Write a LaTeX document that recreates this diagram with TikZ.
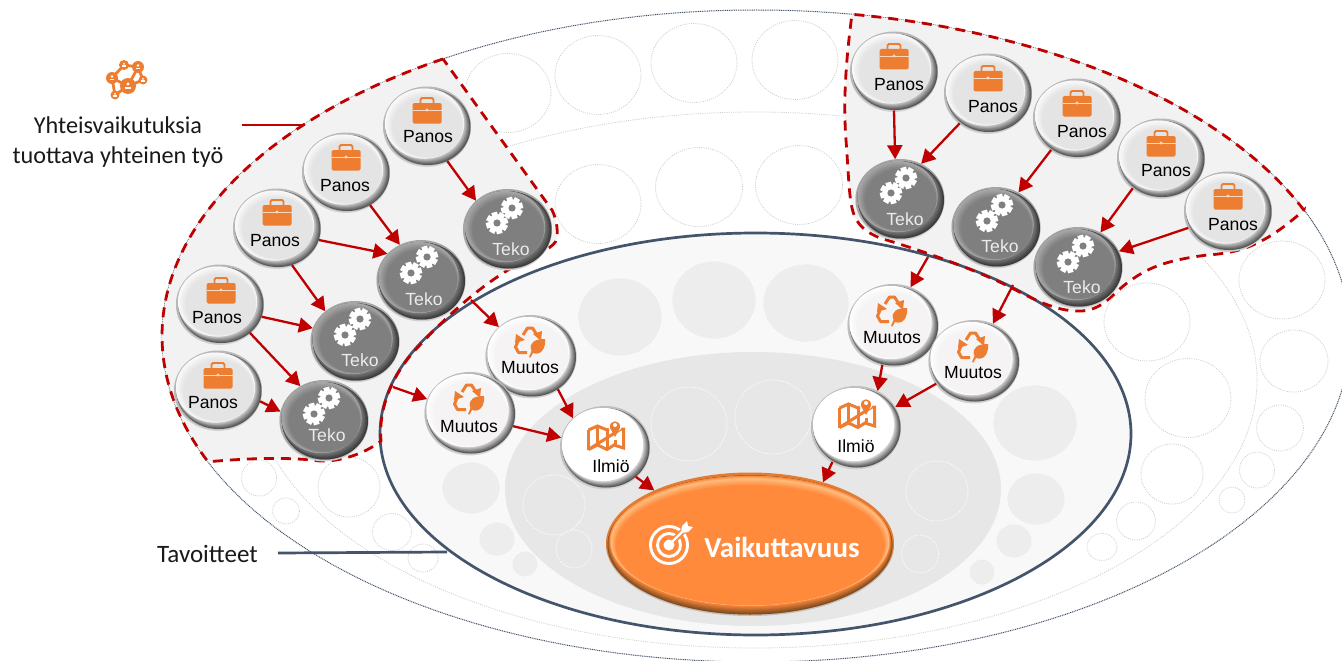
\documentclass[tikz,border=0pt]{standalone}
\usepackage{fontspec}
\setmainfont{Liberation Sans}
\newfontfamily\carlito{Carlito}
\usetikzlibrary{arrows.meta,shapes.geometric}
\definecolor{dred}{HTML}{C00000}
\definecolor{slateb}{HTML}{44546A}
\definecolor{iconor}{HTML}{ED7D31}
\definecolor{ringgray}{HTML}{CFCFCF}
\definecolor{regiong}{HTML}{F2F2F2}
\definecolor{goalfill}{HTML}{F8F8F8}
\definecolor{innerfill}{HTML}{E7E7E7}
\definecolor{spotfill}{HTML}{EDEDED}
% ball colours: base lip, dark rim, light rim, highlight, body
\definecolor{bspanos}{HTML}{B8B8B8}\definecolor{rdpanos}{HTML}{555555}\definecolor{rlpanos}{HTML}{D8D8D8}\definecolor{hipanos}{HTML}{FAFAFA}\definecolor{bdpanos}{HTML}{E4E4E4}
\definecolor{bsmuutos}{HTML}{BCBCBC}\definecolor{rdmuutos}{HTML}{555555}\definecolor{rlmuutos}{HTML}{E4E4E4}\definecolor{himuutos}{HTML}{FFFFFF}\definecolor{bdmuutos}{HTML}{F5F3F3}
\definecolor{bsilmio}{HTML}{BEBEBE}\definecolor{rdilmio}{HTML}{555555}\definecolor{rlilmio}{HTML}{ECECEC}\definecolor{hiilmio}{HTML}{FFFFFF}\definecolor{bdilmio}{HTML}{FFFFFF}
\definecolor{bsteko}{HTML}{A4A4A4}\definecolor{rdteko}{HTML}{3A3A3A}\definecolor{rlteko}{HTML}{808080}\definecolor{hiteko}{HTML}{A8A8A8}\definecolor{bdteko}{HTML}{7F7F7F}
\definecolor{ohi}{HTML}{FFBC7E}
\definecolor{obody}{HTML}{FF8A3C}
\definecolor{orimA}{HTML}{E07C34}
\definecolor{orimC}{HTML}{7D4B20}
\tikzset{
  x=1pt,y=-1pt,
  arr/.style={draw=dred,line width=2.3pt,-{Triangle[length=14pt,width=15pt]}},
  outerring/.style={draw=ringgray,line width=.8pt,dash pattern=on 1pt off 1.2pt},
  goalspot/.style={draw=white,line width=.8pt,dash pattern=on 1pt off 1.2pt,fill=#1},
  goalspot/.default=spotfill,
  ballanchor/.style={ellipse,inner sep=0pt,outer sep=0pt},
  balltext/.style={font=\fontsize{17.6}{20}\selectfont,inner sep=0pt,text=black,yshift=-1pt},
  regiondash/.style={draw=dred,line width=2.8pt,dash pattern=on 10pt off 7pt},
  sidetext/.style={font=\carlito\fontsize{24.2}{30}\selectfont,inner sep=0pt,align=center,text=black!90},
}
\newcommand{\ballat}[6]{% name x y rx ry kind
  \fill[black!18] (#2,#3+1.4) ellipse[x radius=#4,y radius=#5];
  \fill[bs#6] (#2,#3) ellipse[x radius=#4,y radius=#5];
  \foreach \i in {0,...,8}{
    \pgfmathsetmacro{\tt}{\i/8}\pgfmathsetmacro{\pct}{100*\tt}
    \fill[rl#6!\pct!rd#6] ({#2+1-3.5*\tt},{#3+1-3.5*\tt}) ellipse[x radius=#4-1.5-3*\tt,y radius=#5-1.5-3*\tt];
  }
  \foreach \i in {0,...,8}{
    \pgfmathsetmacro{\tt}{\i/8}\pgfmathsetmacro{\pct}{100*\tt}
    \fill[bd#6!\pct!hi#6] ({#2-2.5+3*\tt},{#3-2.5+3*\tt}) ellipse[x radius=#4-4.5-4.5*\tt,y radius=#5-4.5-4.5*\tt];
  }
  \node[ballanchor,minimum width=2*#4 pt,minimum height=2*#5 pt] (#1) at (#2,#3) {};
}
\newcommand{\caseicon}[2]{\begin{scope}[shift={(#1,#2)}]
  \draw[iconor,line width=1.8pt,rounded corners=1.5pt] (-6.5,-7) -- (-6.5,-13) -- (6.5,-13) -- (6.5,-7);
  \fill[iconor,rounded corners=1.5pt] (-14.5,-8) rectangle (14.5,12.5);
  \draw[white!70!iconor,line width=.6pt] (-14.5,-1) -- (14.5,-1);
  \fill[white!70!iconor] (0,-1) circle[radius=1.6];
\end{scope}}
\newcommand{\gearicon}[2]{\begin{scope}[shift={(#1,#2)}]
  \fill[white] (0,0) circle[radius=8.6];
  \foreach \a in {0,45,...,315}{\fill[white,rotate=\a+15] (-2.9,-11) rectangle (2.9,0);}
  \fill[black!50] (0,0) circle[radius=3.6];
\end{scope}}
\newcommand{\recycleicon}[2]{\begin{scope}[shift={(#1,#2)}]
  \draw[iconor,line width=3pt,line join=round] (-7,-7) -- (-2.5,-14) -- (2.5,-14) -- (7,-7);
  \fill[iconor] (3,-8) -- (12,-11) -- (11,-1) -- cycle;
  \fill[iconor] (-14,-8) -- (-5,-2) -- (-15,1) -- cycle;
  \draw[iconor,line width=3pt,line join=round] (-11.5,-2) -- (-14.5,5) -- (-11.5,10.5) -- (-3,10.5);
  \fill[iconor] (-1,15) -- (1.5,9) .. controls (-2,0) and (6,-3) .. (15,-3) .. controls (16,6) and (11,14) .. (3,11) -- (0.5,15.5) -- cycle;
\end{scope}}
\newcommand{\mapicon}[2]{\begin{scope}[shift={(#1,#2)}]
  \draw[iconor,line width=3pt,line join=miter] (-17.5,-7) -- (-8.5,-11) -- (1,-7) -- (3,-8);
  \draw[iconor,line width=3pt,line join=miter] (15,-8) -- (17.5,-8) -- (17.5,11) -- (8,8) -- (1,12.5) -- (-8.5,8) -- (-17.5,12.5) -- cycle;
  \draw[iconor,line width=3pt] (-17.5,-7) -- (-17.5,12.5);
  \draw[iconor,line width=3pt] (-8.5,-11) -- (-8.5,8) (1,-7) -- (1,12.5) (9,3) -- (9,8);
  \fill[white] (9,-12) circle[radius=7];
  \fill[iconor] (9,0) -- (4,-9) .. controls (3,-18) and (15,-18) .. (14,-9) -- cycle;
  \fill[white] (9,-12) circle[radius=2];
\end{scope}}
\newcommand{\panosball}[7]{\ballat{#1}{#2}{#3}{44}{39.5}{panos}\caseicon{#6}{#7}\node[balltext] (#1t) at (#4,#5) {Panos};}
\newcommand{\tekoball}[9]{\ballat{#1}{#2}{#3}{44.5}{40}{teko}\gearicon{#6}{#7}\gearicon{#8}{#9}\node[balltext,text=white!92!black] (#1t) at (#4,#5) {Teko};}
\newcommand{\muutosball}[7]{\ballat{#1}{#2}{#3}{45.5}{41}{muutos}\recycleicon{#6}{#7}\node[balltext] (#1t) at (#4,#5) {Muutos};}
\newcommand{\ilmioball}[7]{\ballat{#1}{#2}{#3}{45}{41}{ilmio}\mapicon{#6}{#7}\node[balltext] (#1t) at (#4,#5) {Ilmiö};}
\begin{document}
\begin{tikzpicture}
\useasboundingbox (0,0) rectangle (1342,661);
\fill[white] (0,0) rectangle (1342,661);
% big rings
\draw[slateb,line width=1pt,dash pattern=on 1pt off .8pt] (756,336) ellipse[x radius=594,y radius=326];
\draw[outerring] (755,380) ellipse[x radius=502,y radius=268];
% outer ring circles
\foreach \cx/\cy/\rx/\ry in {508/93/43/39.5,598/75/43/39.5,694/63/43/39.5,795/60/43/39.5,598/204/43/39.5,699/187/43.5/39.5,799/185/43.5/39.5,
 1282/280/43/39,1147/322/43/39,1188/398/43/39.5,1294/361/34/31,1172/474/31/30,1136/521/19.5/19,1102/547/15/13.5,1280/428/23.5/23,1257/470/17.5/18,1232/500/13/13,
 259/478/17.5/18,286/511/13.5/13,349/487/31/30,392/532/19.5/18.5,423/558/15/14}
  {\draw[outerring] (\cx,\cy) ellipse[x radius=\rx,y radius=\ry];}
% goal ellipse
\fill[goalfill] (755.5,434) ellipse[x radius=375.5,y radius=201];
\fill[innerfill] (753,489) ellipse[x radius=248,y radius=137];
\foreach \cx/\cy/\rx/\ry in {620/317/42/39,714/300/42/39,806/303/43/39,471/488/29/26,497/539/18/17,525/564/13/13,1035/423/42/38,1036/499/29/26,1014/541/18/17,982/572/13/13}
  {\draw[goalspot] (\cx,\cy) ellipse[x radius=\rx,y radius=\ry];}
\foreach \cx/\cy/\rx/\ry in {689/424/38/37,773/417/38/37,554/505/31/30,574/549/18/19,937/491/31/30,920/554/18.5/19}
  {\draw[goalspot=innerfill] (\cx,\cy) ellipse[x radius=\rx,y radius=\ry];}
% dashed regions
\def\leftregion{plot[domain=238.2:157.3,samples=80] ({756+594*cos(\x)},{336+326*sin(\x)})
  .. controls (250,458) and (290,457) .. (320,461) .. controls (345,462) and (370,450) .. (381,441)
  .. controls (378,405) and (395,370) .. (420,345) .. controls (445,318) and (480,285) .. (520,263)
  .. controls (540,252) and (555,248) .. (557,238) .. controls (558,228) and (556,218) .. (552,210) -- cycle}
\def\rightregion{plot[domain=337.3:279.3,samples=80] ({756+594*cos(\x)},{336+326*sin(\x)})
  .. controls (846,60) and (843,100) .. (846,140) .. controls (849,180) and (849,205) .. (855,217)
  .. controls (860,228) and (870,234) .. (880,238) .. controls (930,253) and (980,272) .. (1010,287)
  .. controls (1040,303) and (1060,312) .. (1082,311) .. controls (1105,309) and (1112,293) .. (1130,281)
  .. controls (1150,266) and (1170,260) .. (1207,255) .. controls (1240,253) and (1265,245) .. (1304,210) -- cycle}
\fill[regiong] \leftregion;
\fill[regiong] \rightregion;
\draw[slateb,line width=2.7pt] (755.5,434) ellipse[x radius=375.5,y radius=201];
\draw[regiondash] \leftregion;
\draw[regiondash] \rightregion;
% left balls
\tekoball{lt}{507.5}{229}{511}{248}{497}{223}{512}{208}
\tekoball{lu}{421}{280}{424}{298}{411}{273}{427}{257}
\tekoball{lv}{355}{341}{360}{359}{345}{335}{360}{319}
\tekoball{lw}{324}{420}{327}{434}{314}{414}{329}{398}
\panosball{la}{427}{126}{428}{136}{427}{111}
\panosball{lb}{346}{172}{345}{185}{346}{158}
\panosball{lc}{277}{228}{275}{240}{277}{213}
\panosball{ld}{220}{304}{217}{317}{221}{291}
\panosball{le}{218}{390}{213}{402}{218}{376}
% right balls
\panosball{ra}{894}{71}{899}{84}{894}{57}
\panosball{rb}{988}{93}{993}{106}{988}{79}
\panosball{rc}{1077}{118}{1082}{131}{1077}{104}
\panosball{rd}{1161}{158}{1166}{170}{1161}{144}
\panosball{re}{1228}{211}{1233}{224}{1228}{197}
\tekoball{rt}{900}{199}{905}{218}{891}{193}{906}{178}
\tekoball{ru}{996}{227}{1000}{245}{987}{221}{1002}{205}
\tekoball{rv}{1078}{267}{1082}{286}{1068}{262}{1083}{246}
% change balls
\muutosball{ma}{531}{356}{530}{367}{530}{342}
\muutosball{mb}{470}{413}{469}{426}{469}{399}
\muutosball{mc}{893}{325}{892}{337}{892}{311}
\muutosball{md}{974}{361}{973}{372}{973}{347}
\ilmioball{ia}{605}{447}{611}{465}{606}{437}
\ilmioball{ib}{856}{427}{856}{445}{857}{415}
% result
\fill[black!25] (750,545) ellipse[x radius=144,y radius=71];
\fill[orimA] (750,543.5) ellipse[x radius=144,y radius=71];
\foreach \i in {0,...,10}{
  \pgfmathsetmacro{\tt}{\i/10}\pgfmathsetmacro{\pct}{100*\tt}
  \fill[obody!\pct!orimC] (750,{545-4*\tt}) ellipse[x radius=142.5-2.5*\tt,y radius=69.5-4.5*\tt];
}
\foreach \i in {0,...,4}{
  \pgfmathsetmacro{\tt}{\i/4}\pgfmathsetmacro{\pct}{100*\tt}
  \fill[ohi!\pct!obody] (750,{543.5+((3.5+2.5*\tt)-9)/2}) ellipse[x radius=140-1*\tt,y radius=71-((3.5+2.5*\tt)+9)/2];
}
\foreach \i in {0,...,8}{
  \pgfmathsetmacro{\tt}{\i/8}\pgfmathsetmacro{\pct}{100*\tt}
  \fill[obody!\pct!ohi] (750,{543.5+((6+7*\tt)-(9+.5*\tt))/2}) ellipse[x radius=139-5*\tt,y radius=71-((6+7*\tt)+(9+.5*\tt))/2];
}
\node[ballanchor,minimum width=288pt,minimum height=142pt] (vv) at (750,543.5) {};
\begin{scope}[shift={(669,545)}]
  \draw[white,line width=2.9pt] (0,0) circle[radius=18.5];
  \draw[white,line width=2.9pt] (0,0) circle[radius=11.5];
  \draw[obody,line width=6pt] (4,-4) -- (20,-20);
  \fill[white] (0,0) circle[radius=5.5];
  \draw[white,line width=2.3pt] (0,0) -- (15,-15);
  \fill[white] (12,-12) -- (13,-19) -- (18,-24) -- (19,-19) -- (24,-18) -- (19,-13) -- cycle;
\end{scope}
\node[font=\carlito\bfseries\fontsize{29}{32}\selectfont,text=white,inner sep=0pt] (vvt) at (782,547) {Vaikuttavuus};
% free ends
\coordinate (fa) at (471,300);
\coordinate (fb) at (393,387);
\coordinate (fc) at (928,257);
\coordinate (fd) at (1013,285);
% connectors
\draw[arr] (la.-60) -- (lt.138);
\draw[arr] (lb.-54) -- (lu.121);
\draw[arr] (lc.-16) -- (lu.142);
\draw[arr] (lc.-68) -- (lv.135);
\draw[arr] (ld.-17) -- (lv.163);
\draw[arr] (ld.-44) -- (lw.125);
\draw[arr] (le.-15) -- (lw.169);
\draw[arr] (fa) -- (ma.138);
\draw[arr] (fb) -- (mb.162);
\draw[arr] (ma.-51) -- (ia.138);
\draw[arr] (mb.-17) -- (ia.168);
\draw[arr] (ia.-44) -- (vv.151.5);
\draw[arr] (ib.-124) -- (vv.40);
\draw[arr] (ra.-90) -- (rt.97);
\draw[arr] (rb.-133) -- (rt.59);
\draw[arr] (rc.-129) -- (ru.57);
\draw[arr] (rd.-133) -- (rv.57);
\draw[arr] (re.-157) -- (rv.21);
\draw[arr] (fc) -- (mc.65);
\draw[arr] (fd) -- (md.63);
\draw[arr] (mc.-105) -- (ib.59);
\draw[arr] (md.-149) -- (ib.27);
% network icon
\begin{scope}
  \draw[iconor,line width=2.8pt] (112,78) -- (124,65) -- (138,67) -- (143,80) -- (128,86) -- (112,78) -- (115,95) -- (128,86) -- (138,67);
  \fill[iconor] (124,65) circle[radius=5] (138,67) circle[radius=6] (112,78) circle[radius=6] (128,86) circle[radius=8] (143,80) circle[radius=4.5] (115,95) circle[radius=4.5];
  \foreach \px/\py/\ps in {124/65/.6,138/67/.75,112/78/.75,128/86/1,143/80/.55,115/95/.55}{
    \fill[white] (\px,\py-2*\ps) circle[radius=1.7*\ps];
    \fill[white] (\px-3.2*\ps,\py+3.2*\ps) rectangle (\px+3.2*\ps,\py+.8*\ps);
  }
\end{scope}
% side labels
\node[sidetext] (lab1) at (118,142) {Yhteisvaikutuksia\\tuottava yhteinen työ};
\node[sidetext,anchor=west,font=\carlito\fontsize{25}{30}\selectfont] (lab2) at (157,554) {Tavoitteet};
\coordinate (pa) at (242,125);
\coordinate (pb) at (305,125);
\coordinate (pc) at (278,553);
\coordinate (pd) at (447,552);
\draw[dred,line width=2.6pt] (pa) -- (pb);
\draw[slateb,line width=2.7pt] (pc) -- (pd);
\end{tikzpicture}
\end{document}
